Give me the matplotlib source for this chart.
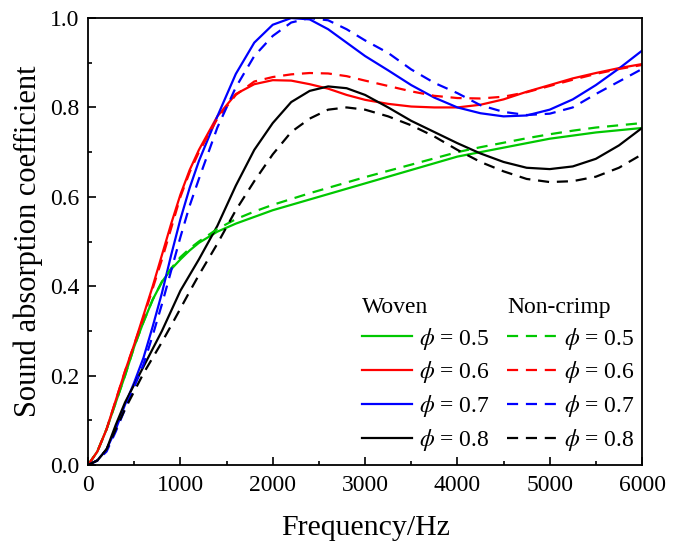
import matplotlib
matplotlib.use('Agg')
import matplotlib.pyplot as plt
from matplotlib.ticker import MultipleLocator

plt.rcParams['font.family'] = ['Liberation Serif', 'DejaVu Serif']
plt.rcParams['mathtext.fontset'] = 'stix'

# frequency grid (Hz)
freq = [0, 100, 200, 300, 400, 500, 600, 700, 800, 900, 1000, 1100, 1200, 1400, 1600, 1800,
        2000, 2200, 2400, 2600, 2800, 3000, 3250, 3500, 3750, 4000, 4250, 4500,
        4750, 5000, 5250, 5500, 5750, 6000]

# woven fabrics
woven_05 = [0, 0.03, 0.08, 0.14, 0.20, 0.265, 0.32, 0.37, 0.41, 0.438, 0.46, 0.48, 0.497, 0.522,
            0.54, 0.555, 0.57, 0.582, 0.594, 0.606, 0.618, 0.63, 0.645, 0.66, 0.675, 0.69,
            0.70, 0.71, 0.72, 0.73, 0.737, 0.744, 0.749, 0.754]
woven_06 = [0, 0.03, 0.08, 0.145, 0.21, 0.27, 0.335, 0.40, 0.47, 0.54, 0.605, 0.66, 0.705, 0.78,
            0.83, 0.852, 0.861, 0.86, 0.852, 0.842, 0.828, 0.817, 0.808, 0.802, 0.80, 0.80,
            0.806, 0.818, 0.835, 0.85, 0.865, 0.877, 0.888, 0.897]
woven_07 = [0, 0.01, 0.035, 0.08, 0.135, 0.185, 0.24, 0.31, 0.385, 0.47, 0.55, 0.62, 0.68, 0.78,
            0.875, 0.945, 0.985, 1.0, 0.997, 0.975, 0.945, 0.915, 0.883, 0.85, 0.822, 0.80,
            0.787, 0.78, 0.782, 0.795, 0.818, 0.85, 0.887, 0.927]
woven_08 = [0, 0.01, 0.035, 0.09, 0.14, 0.18, 0.22, 0.26, 0.30, 0.345, 0.39, 0.425, 0.46, 0.535,
            0.625, 0.705, 0.765, 0.812, 0.837, 0.847, 0.843, 0.828, 0.80, 0.77, 0.745, 0.72,
            0.697, 0.678, 0.665, 0.662, 0.668, 0.685, 0.715, 0.754]

# non-crimp fabrics
nc_05 = [0, 0.03, 0.08, 0.14, 0.20, 0.265, 0.32, 0.37, 0.41, 0.44, 0.465, 0.484, 0.50, 0.528,
         0.55, 0.567, 0.582, 0.595, 0.608, 0.62, 0.632, 0.644, 0.658, 0.672, 0.686, 0.70,
         0.711, 0.721, 0.731, 0.74, 0.748, 0.755, 0.76, 0.765]
nc_06 = [0, 0.03, 0.08, 0.145, 0.21, 0.27, 0.33, 0.395, 0.46, 0.53, 0.60, 0.655, 0.70, 0.775,
         0.828, 0.858, 0.868, 0.874, 0.877, 0.876, 0.87, 0.86, 0.848, 0.836, 0.826, 0.821,
         0.82, 0.824, 0.834, 0.848, 0.862, 0.875, 0.886, 0.895]
nc_07 = [0, 0.01, 0.03, 0.075, 0.125, 0.175, 0.225, 0.29, 0.36, 0.435, 0.51, 0.58, 0.64, 0.755,
         0.845, 0.915, 0.96, 0.99, 1.0, 0.995, 0.975, 0.95, 0.922, 0.885, 0.855, 0.832,
         0.805, 0.79, 0.783, 0.786, 0.80, 0.83, 0.858, 0.886]
nc_08 = [0, 0.01, 0.035, 0.08, 0.125, 0.165, 0.205, 0.24, 0.275, 0.312, 0.35, 0.388, 0.425, 0.495,
         0.57, 0.635, 0.695, 0.745, 0.775, 0.795, 0.80, 0.795, 0.78, 0.76, 0.735, 0.705,
         0.678, 0.657, 0.64, 0.633, 0.635, 0.645, 0.665, 0.695]

labels = [r'$\phi$ = 0.5', r'$\phi$ = 0.6', r'$\phi$ = 0.7', r'$\phi$ = 0.8']
colors = ['#00c800', '#ff0000', '#0000ff', '#000000']

fig = plt.figure(figsize=(6.83, 5.47), dpi=100)
ax = fig.add_axes([0.129, 0.150, 0.811, 0.817])

h_woven = []
for y, c, lab in zip([woven_05, woven_06, woven_07, woven_08], colors, labels):
    ln, = ax.plot(freq, y, color=c, lw=1.6, label=lab)
    h_woven.append(ln)
h_nc = []
for y, c, lab in zip([nc_05, nc_06, nc_07, nc_08], colors, labels):
    ln, = ax.plot(freq, y, color=c, lw=1.6, ls=(0, (5, 3.5)), label=lab)
    h_nc.append(ln)

ax.set_xlim(0, 6000)
ax.set_ylim(0, 1.0)
ax.xaxis.set_major_locator(MultipleLocator(1000))
ax.xaxis.set_minor_locator(MultipleLocator(500))
ax.yaxis.set_major_locator(MultipleLocator(0.2))
ax.yaxis.set_minor_locator(MultipleLocator(0.1))
ax.set_yticklabels(['%.1f' % v for v in ax.get_yticks()])
ax.tick_params(which='both', direction='in', top=False, right=False, width=1.2, labelsize=17)
ax.tick_params(which='major', length=6)
ax.tick_params(which='minor', length=3)
ax.tick_params(axis='x', pad=7)
ax.tick_params(axis='y', pad=6)
for s in ax.spines.values():
    s.set_linewidth(1.3)

ax.set_xlabel('Frequency/Hz', fontsize=21.5, labelpad=14)
ax.set_ylabel('Sound absorption coefficient', fontsize=22, labelpad=5)

leg_kw = dict(frameon=False, fontsize=17, title_fontsize=17, handlelength=2.1,
              handletextpad=0.3, labelspacing=0.33, alignment='left', borderpad=0.2)
leg1 = ax.legend(handles=h_woven, title='Woven', loc='lower left',
                 bbox_to_anchor=(0.465, -0.01), **leg_kw)
ax.add_artist(leg1)
leg2 = ax.legend(handles=h_nc, title='Non-crimp', loc='lower left',
                 bbox_to_anchor=(0.727, -0.01), **leg_kw)

plt.savefig('out.png', dpi=100)
